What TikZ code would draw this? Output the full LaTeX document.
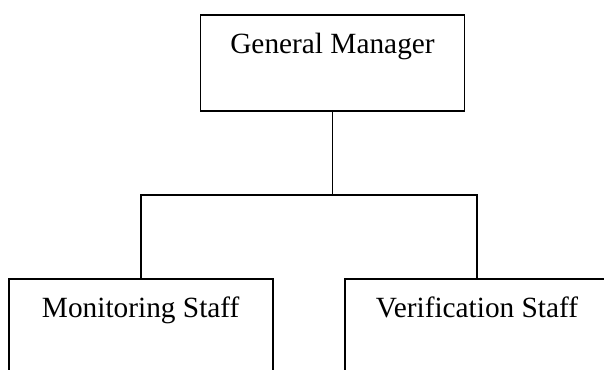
\documentclass[tikz,border=0pt]{standalone}
\usepackage{fontspec}
\setmainfont{Liberation Serif}
\usepackage{tikz}
\usetikzlibrary{calc}
\begin{document}
\begin{tikzpicture}[x=0.75pt, y=-0.75pt,
  box/.style={draw, line width=1.4pt, inner sep=0pt, minimum width=198pt,
    text height=29.25pt, text depth=42.75pt, font=\fontsize{22}{26}\selectfont},
  link/.style={line width=1.4pt}]
\useasboundingbox (0,0) rectangle (604,370);
\clip (0,0) rectangle (604,370);
\node[box] (gm) at (332.5, 63) {General Manager};
\node[box] (ms) at (140.7, 327) {Monitoring Staff};
\node[box] (vs) at (477, 327) {Verification Staff};
\coordinate (bar) at ($(gm.south)!0.5!(gm.south|-ms.north)$);
\draw[link] (gm.south) -- (bar);
\draw[link] (ms.north) |- (bar) -| (vs.north);
\end{tikzpicture}
\end{document}
